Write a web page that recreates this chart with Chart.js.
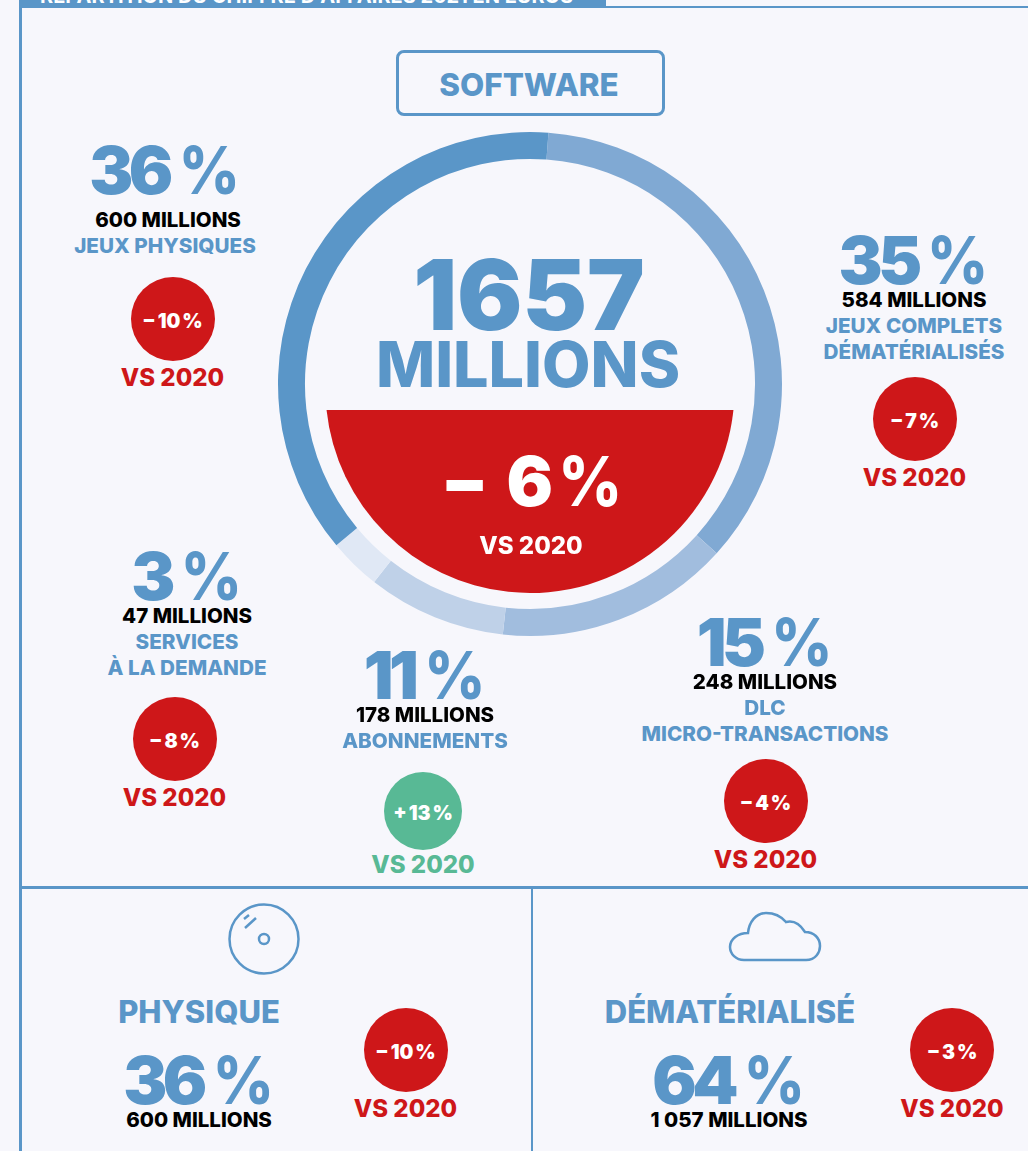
<!DOCTYPE html>
<html lang="fr">
<head>
<meta charset="utf-8">
<title>Software</title>
<script src="https://cdn.jsdelivr.net/npm/chart.js@4"></script>
<style>
    html, body { margin: 0; padding: 0; background: #f7f7fc; }
    #page { position: relative; width: 1028px; height: 1151px; overflow: hidden; font-family: 'Inter', sans-serif; font-weight: 800; }
    #ring { position: absolute; left: 270px; top: 124px; }
    .t { position: absolute; transform: translate(-50%, -50%); white-space: nowrap; line-height: 1; }
    .pct { font-weight: 900; word-spacing: -0.06em; }
    .pct .num { letter-spacing: -0.07em; }
    .pct .sign { display: inline-block; font-weight: 800; transform: scaleX(0.9); margin: 0 -0.04em; }
    .rule { position: absolute; background: #5a96c8; }
    .bubble { position: absolute; border-radius: 50%; transform: translate(-50%, -50%); }
    #softwareBox { position: absolute; left: 396px; top: 50px; width: 263px; height: 60px; border: 3px solid #5a96c8; border-radius: 8px; }
    #headerBar { position: absolute; left: 20px; top: 0; width: 586px; height: 8px; background: #5a96c8; overflow: hidden; }
    #headerBar span { position: absolute; left: 20px; top: -16px; color: #fff; font-size: 20px; white-space: nowrap; font-weight: 700; }
    svg { position: absolute; fill: none; stroke: #5a96c8; stroke-width: 2.5; }
</style>
</head>
<body>
<div id="page">
    <div id="headerBar"><span>RÉPARTITION DU CHIFFRE D'AFFAIRES 2021 EN EUROS</span></div>
    <div class="rule" style="left:606px;top:6px;width:422px;height:2px"></div>
    <div class="rule" style="left:19px;top:0;width:3px;height:1151px"></div>
    <div class="rule" style="left:20px;top:886px;width:1008px;height:3px"></div>
    <div class="rule" style="left:531px;top:888px;width:2px;height:263px"></div>
    <div id="softwareBox"></div>
    <canvas id="ring" width="520" height="520"></canvas>
    <svg style="left:220px;top:895px" width="90" height="90" viewBox="0 0 90 90">
        <circle cx="44" cy="44" r="34.5"/>
        <circle cx="44" cy="44" r="5"/>
        <path d="M25 33 L36 23 M24 24 L29 20"/>
    </svg>
    <svg style="left:720px;top:905px" width="110" height="65" viewBox="0 0 110 65">
        <path d="M24 55 H86 C96 55 100 47 100 41 C100 33 94 27 85 27 C80 19 74 15 66 17 C60 10 53 8 46 8 C36 8 29 17 28 28 C18 28 10 34 10 42 C10 49 16 55 24 55 Z"/>
    </svg>
</div>
<script>
// --- Data ---
const segmentNames = ['Jeux complets dématérialisés', 'DLC / micro-transactions', 'Abonnements', 'Services à la demande', 'Jeux physiques'];
// arc share of each segment as drawn in the ring (degrees)
const segmentArcs = [128, 54, 32, 12, 134];
const segmentColors = ['#80a9d3', '#a1bdde', '#bfd1e8', '#e0e8f5', '#5a96c8'];

const percents = ['36 %', '35 %', '3 %', '11 %', '15 %'];
const amounts = ['600 MILLIONS', '584 MILLIONS', '47 MILLIONS', '178 MILLIONS', '248 MILLIONS'];
const names = [['JEUX PHYSIQUES'], ['JEUX COMPLETS', 'DÉMATÉRIALISÉS'], ['SERVICES', 'À LA DEMANDE'], ['ABONNEMENTS'], ['DLC', 'MICRO-TRANSACTIONS']];
const changes = ['− 10 %', '− 7 %', '− 8 %', '+ 13 %', '− 4 %'];

const BLUE = '#5a96c8', RED = '#ce1719', GREEN = '#58b995';

// layout of the five callouts: [text x, percent y, amount y, bubble x, bubble y]
const calloutPos = [
    [165, 170, 220, 172.5, 318.5],
    [914, 260, 300, 914.5, 419],
    [187, 576, 616, 174.5, 739],
    [425, 675, 715, 423, 809],
    [765, 642, 682, 765.5, 801]
];

const page = document.getElementById('page');

const addText = (text, x, y, size, color, weight) => {
    const el = document.createElement('div');
    el.className = 't';
    el.textContent = text;
    el.style.left = x + 'px';
    el.style.top = y + 'px';
    el.style.fontSize = size + 'px';
    el.style.color = color;
    if (weight) el.style.fontWeight = weight;
    page.appendChild(el);
    return el;
};

// big percentage: the sign is narrower than the digits
const addPercent = (text, x, y, size, color) => {
    const el = addText('', x, y, size, color);
    el.classList.add('pct');
    const num = document.createElement('span');
    num.className = 'num';
    num.textContent = text.replace(' %', '');
    const sign = document.createElement('span');
    sign.className = 'sign';
    sign.textContent = '%';
    el.append(num, ' ', sign);
    return el;
};

const addBubble = (text, x, y, color, size = 84, labelGap = 59) => {
    const el = document.createElement('div');
    el.className = 'bubble';
    el.style.left = x + 'px';
    el.style.top = y + 'px';
    el.style.width = size + 'px';
    el.style.height = size + 'px';
    el.style.background = color;
    page.appendChild(el);
    addText(text, x, y + 3, 19.5, '#fff', 900).style.wordSpacing = '-2px';
    addText('VS 2020', x, y + labelGap, 24, color);
};

addText('SOFTWARE', 529, 85.5, 31.4, BLUE);
addText('1657', 529, 294, 97, BLUE, 900);
addText('MILLIONS', 528, 364, 62.8, BLUE, 800);

percents.forEach((p, i) => {
    const [x, y, ay, bx, by] = calloutPos[i];
    addPercent(p, x, y, 66, BLUE);
    addText(amounts[i], i === 0 ? x + 3 : x, ay, 20.5, '#000');
    names[i].forEach((line, j) => addText(line, x, ay + 26 + j * 25.5, 20.7, BLUE));
    if (i === 3) addBubble(changes[i], bx, by + 2, GREEN, 78, 54);
    else addBubble(changes[i], bx, by, RED);
});

// bottom panels
addText('PHYSIQUE', 199, 1011, 31, BLUE);
addPercent('36 %', 199, 1080, 66, BLUE);
addText('600 MILLIONS', 199, 1119.5, 20.5, '#000');
addBubble('− 10 %', 405.5, 1049.5, RED);

addText('DÉMATÉRIALISÉ', 730, 1011, 31, BLUE);
addPercent('64 %', 729, 1080, 66, BLUE);
addText('1 057 MILLIONS', 729, 1119.5, 20.5, '#000');
addBubble('− 3 %', 952, 1049.5, RED);

// white text of the red half disc
const bigChange = addPercent('− 6 %', 532, 481, 69, '#fff');
bigChange.querySelector('.num').style.wordSpacing = '0.2em';
addText('VS 2020', 531, 545.5, 24, '#fff');

// --- Red segment inside the ring ---
const redSegment = {
    id: 'redSegment',
    afterDatasetsDraw(chart) {
        const arc = chart.getDatasetMeta(0).data[0];
        const ctx = chart.ctx;
        const r = 204.6;
        const cy = arc.y + 4.4;
        const a = Math.asin(21.6 / r);
        ctx.save();
        ctx.fillStyle = RED;
        ctx.beginPath();
        ctx.arc(arc.x, cy, r, a, Math.PI - a);
        ctx.closePath();
        ctx.fill();
        ctx.restore();
    }
};

new Chart(document.getElementById('ring'), {
    type: 'doughnut',
    data: {
        labels: segmentNames,
        datasets: [{
            data: segmentArcs,
            backgroundColor: segmentColors,
            borderWidth: 0
        }]
    },
    options: {
        responsive: false,
        animation: false,
        rotation: 4.2,
        radius: 252,
        cutout: '89.3%',
        plugins: {
            legend: { display: false },
            tooltip: { enabled: false }
        }
    },
    plugins: [redSegment]
});
</script>
</body>
</html>
